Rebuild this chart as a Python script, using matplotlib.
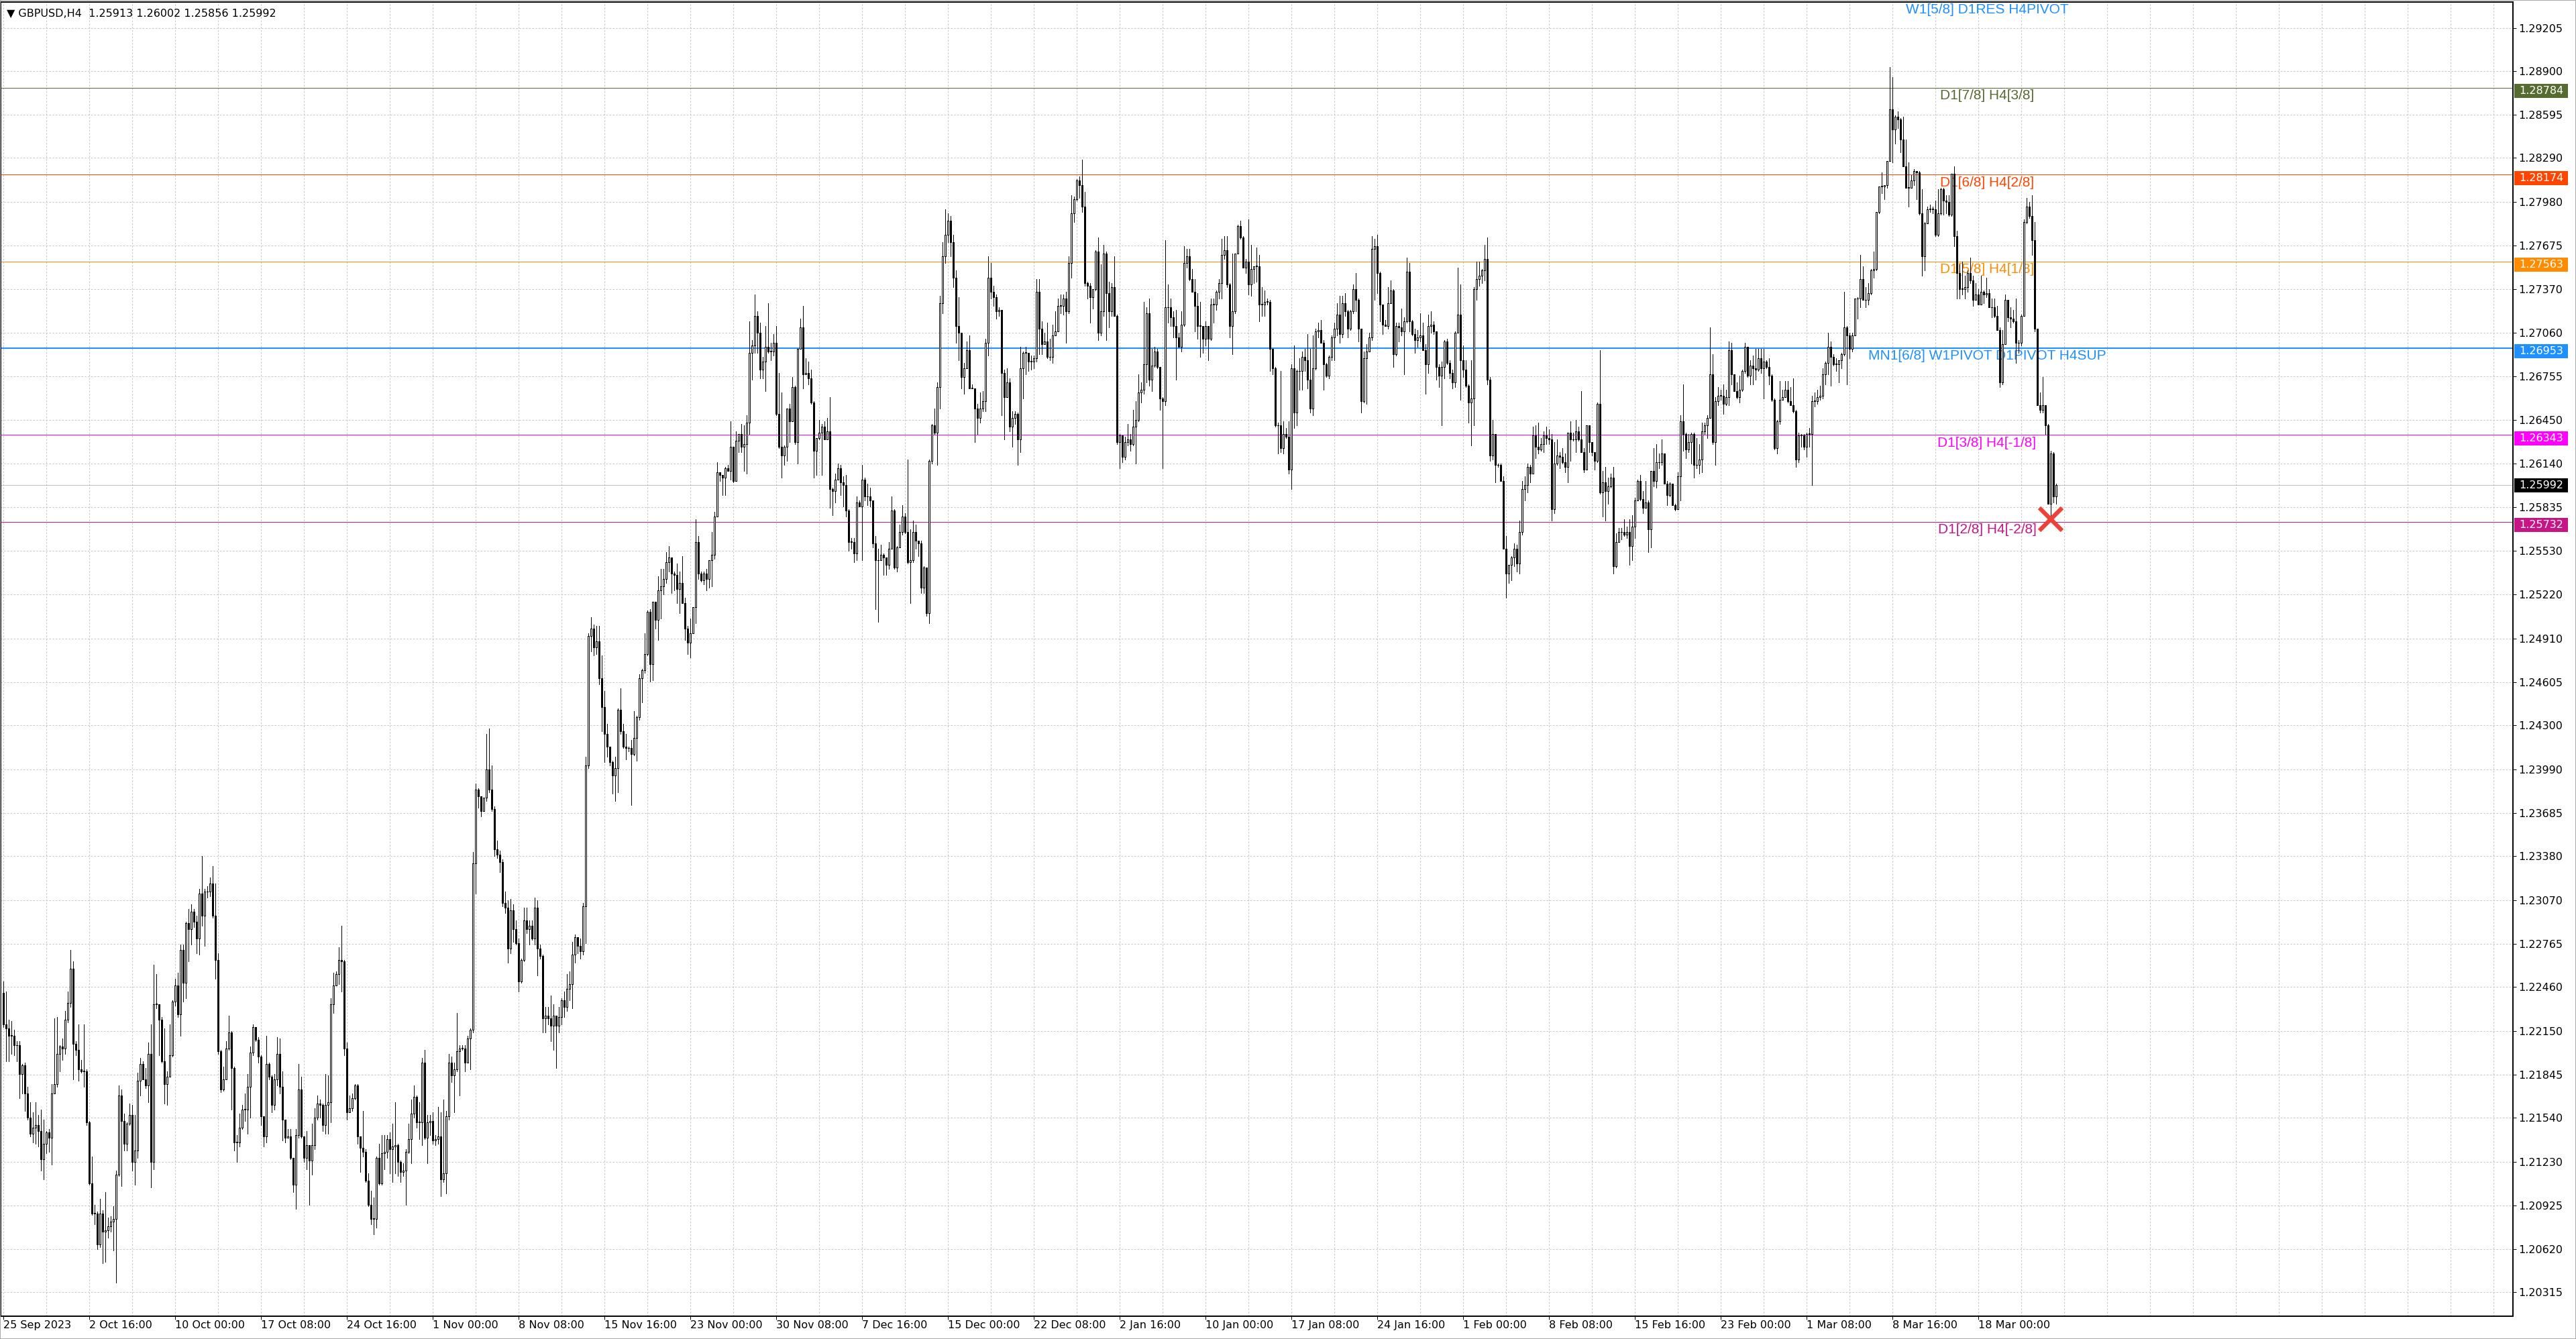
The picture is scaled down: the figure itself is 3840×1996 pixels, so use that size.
import numpy as np
import matplotlib
matplotlib.use("Agg")
import matplotlib.pyplot as plt
from matplotlib.patches import Rectangle

# ---------------- data (prices in 1/10000, i.e. 12220 -> 1.2220) ----------------
first_open = 12242
closes = [
12220,12217,12212,12212,12205,12205,12185,12191,12171,12154,
12143,12147,12149,12145,12125,12136,12144,12140,12171,12178,
12199,12204,12203,12223,12235,12259,12206,12202,12188,12187,
12187,12151,12108,12087,12087,12065,12087,12074,12075,12078,
12081,12083,12114,12170,12152,12136,12150,12156,12123,12131,
12180,12192,12181,12177,12199,12123,12234,12234,12223,12194,
12178,12183,12198,12236,12247,12227,12272,12249,12291,12287,
12299,12292,12280,12312,12296,12313,12313,12319,12296,12265,
12201,12174,12181,12203,12214,12189,12137,12137,12147,12160,
12160,12176,12200,12218,12209,12197,12155,12141,12192,12183,
12163,12181,12199,12176,12153,12140,12141,12126,12107,12142,
12174,12141,12126,12135,12124,12135,12154,12164,12163,12149,
12163,12165,12234,12247,12255,12265,12264,12203,12158,12161,
12168,12177,12141,12133,12130,12110,12093,12083,12083,12126,
12108,12129,12130,12139,12132,12134,12135,12123,12116,12117,
12130,12139,12157,12169,12151,12151,12193,12140,12151,12152,
12138,12139,12141,12111,12115,12155,12193,12184,12188,12201,
12203,12203,12193,12210,12216,12333,12385,12380,12370,12379,
12399,12385,12371,12343,12339,12334,12305,12302,12273,12300,
12287,12277,12250,12265,12293,12287,12289,12280,12302,12273,
12268,12224,12226,12224,12219,12226,12219,12225,12237,12232,
12245,12248,12269,12281,12275,12271,12303,12402,12493,12498,
12485,12489,12463,12443,12424,12415,12404,12395,12400,12441,
12426,12415,12414,12414,12410,12421,12436,12463,12469,12480,
12510,12473,12517,12504,12525,12528,12533,12545,12548,12537,
12536,12526,12530,12516,12498,12488,12495,12513,12559,12537,
12532,12537,12533,12546,12550,12577,12608,12606,12604,12611,
12609,12626,12602,12630,12635,12626,12628,12643,12692,12697,
12718,12706,12680,12686,12696,12693,12693,12699,12649,12626,
12620,12626,12653,12644,12668,12629,12695,12710,12677,12678,
12674,12657,12623,12632,12636,12640,12631,12637,12596,12595,
12603,12611,12601,12599,12581,12559,12559,12551,12587,12584,
12603,12591,12591,12588,12558,12546,12546,12550,12548,12543,
12554,12581,12541,12555,12566,12577,12566,12545,12546,12566,
12560,12558,12527,12541,12509,12616,12641,12636,12668,12727,
12760,12775,12785,12770,12745,12711,12706,12675,12681,12694,
12667,12667,12653,12646,12653,12658,12699,12745,12735,12731,
12721,12722,12678,12661,12671,12640,12646,12649,12631,12681,
12692,12692,12686,12686,12688,12735,12709,12698,12700,12689,
12689,12704,12707,12725,12725,12730,12721,12755,12790,12800,
12813,12810,12795,12741,12739,12731,12737,12763,12706,12721,
12762,12734,12721,12738,12718,12629,12634,12619,12629,12631,
12628,12640,12645,12664,12666,12684,12720,12673,12683,12693,
12682,12660,12658,12724,12724,12717,12711,12703,12696,12712,
12755,12760,12744,12735,12725,12711,12711,12702,12711,12702,
12726,12726,12735,12741,12761,12764,12740,12711,12721,12762,
12781,12773,12752,12756,12740,12751,12753,12753,12726,12726,
12728,12728,12695,12681,12641,12641,12625,12635,12633,12610,
12681,12650,12679,12679,12689,12687,12673,12653,12681,12707,
12708,12699,12684,12676,12689,12703,12709,12719,12705,12727,
12721,12709,12721,12737,12729,12709,12658,12688,12693,12703,
12765,12767,12748,12726,12712,12711,12727,12736,12691,12711,
12710,12707,12714,12749,12714,12705,12701,12703,12704,12694,
12684,12711,12712,12707,12682,12676,12682,12700,12685,12678,
12671,12706,12719,12687,12680,12669,12657,12660,12737,12744,
12746,12750,12758,12673,12620,12635,12613,12613,12602,12554,
12537,12543,12548,12554,12544,12566,12596,12599,12612,12607,
12634,12626,12624,12628,12634,12632,12631,12582,12614,12620,
12619,12615,12612,12636,12631,12631,12637,12631,12622,12610,
12641,12629,12622,12616,12656,12594,12601,12595,12598,12604,
12542,12559,12566,12566,12564,12566,12556,12570,12588,12602,
12589,12583,12587,12568,12609,12602,12615,12615,12621,12600,
12592,12600,12585,12582,12605,12644,12635,12624,12629,12635,
12613,12613,12617,12637,12641,12646,12677,12629,12658,12662,
12662,12656,12661,12694,12677,12665,12661,12666,12679,12696,
12676,12683,12681,12680,12688,12681,12686,12682,12676,12659,
12625,12644,12659,12661,12666,12658,12655,12651,12617,12634,
12634,12626,12635,12635,12658,12658,12661,12662,12677,12685,
12696,12689,12684,12684,12687,12691,12710,12704,12695,12704,
12730,12730,12744,12729,12729,12734,12750,12751,12791,12809,
12809,12810,12827,12863,12849,12858,12856,12842,12823,12808,
12808,12813,12820,12819,12790,12760,12783,12793,12793,12793,
12775,12790,12807,12799,12798,12789,12818,12774,12748,12737,
12737,12738,12748,12743,12729,12733,12726,12735,12733,12734,
12724,12724,12718,12708,12671,12698,12729,12717,12716,12714,
12699,12699,12718,12784,12795,12788,12771,12709,12655,12652,
12655,12641,12586,12621,12591,12599]

highs = [
12250,12243,12223,12222,12216,12208,12208,12192,12193,12176,
12165,12158,12165,12156,12160,12153,12145,12146,12178,12224,
12225,12205,12210,12229,12243,12272,12264,12208,12220,12195,
12220,12188,12152,12127,12093,12088,12097,12089,12102,12084,
12085,12092,12117,12177,12174,12157,12151,12164,12163,12156,
12186,12196,12194,12189,12207,12220,12262,12255,12225,12225,
12217,12187,12220,12237,12252,12256,12276,12276,12292,12301,
12304,12301,12296,12315,12338,12315,12317,12323,12331,12319,
12270,12202,12190,12208,12226,12215,12190,12142,12157,12163,
12171,12185,12204,12220,12216,12211,12198,12155,12212,12193,
12184,12185,12211,12210,12187,12153,12146,12146,12126,12146,
12192,12183,12140,12145,12135,12150,12161,12170,12167,12164,
12185,12184,12238,12256,12257,12274,12289,12265,12207,12170,
12171,12178,12178,12141,12159,12132,12115,12103,12098,12127,
12136,12142,12142,12142,12144,12150,12165,12136,12124,12122,
12132,12150,12167,12177,12170,12165,12196,12202,12156,12156,
12158,12142,12162,12158,12167,12159,12199,12197,12193,12228,
12205,12205,12205,12212,12217,12341,12389,12386,12379,12379,
12424,12428,12402,12373,12349,12342,12336,12313,12307,12308,
12304,12293,12280,12266,12302,12302,12293,12293,12309,12307,
12276,12269,12232,12232,12240,12234,12226,12232,12238,12243,
12255,12257,12278,12283,12280,12280,12305,12408,12495,12506,
12501,12500,12500,12479,12454,12431,12414,12405,12408,12442,
12456,12431,12424,12415,12420,12440,12437,12466,12470,12495,
12511,12512,12517,12516,12535,12540,12540,12552,12556,12548,
12538,12544,12538,12549,12520,12500,12505,12513,12575,12563,
12538,12538,12540,12546,12566,12580,12615,12608,12604,12612,
12613,12644,12626,12637,12635,12642,12641,12648,12714,12701,
12733,12721,12713,12689,12711,12727,12699,12705,12711,12678,
12664,12627,12653,12656,12675,12669,12695,12716,12725,12688,
12686,12680,12658,12632,12645,12642,12644,12646,12661,12597,
12607,12614,12613,12605,12606,12582,12562,12562,12591,12588,
12613,12604,12600,12597,12588,12563,12554,12557,12551,12547,
12559,12591,12582,12556,12571,12585,12579,12617,12568,12574,
12571,12560,12560,12542,12541,12617,12642,12653,12671,12732,
12770,12793,12790,12788,12775,12750,12731,12706,12685,12700,
12704,12670,12667,12656,12664,12665,12702,12760,12755,12739,
12733,12724,12722,12680,12681,12674,12651,12651,12650,12696,
12693,12696,12688,12690,12690,12744,12744,12714,12706,12713,
12702,12712,12721,12730,12733,12733,12735,12760,12803,12802,
12814,12816,12828,12805,12742,12741,12737,12764,12773,12754,
12768,12763,12742,12741,12760,12719,12635,12634,12633,12642,
12635,12652,12658,12677,12671,12728,12724,12730,12695,12696,
12695,12675,12661,12771,12740,12730,12721,12722,12706,12721,
12767,12765,12765,12751,12744,12734,12728,12711,12714,12711,
12730,12730,12736,12744,12772,12774,12774,12741,12762,12762,
12782,12785,12774,12758,12786,12768,12752,12766,12761,12738,
12736,12730,12729,12695,12682,12643,12679,12644,12639,12644,
12684,12697,12680,12688,12693,12695,12705,12695,12704,12709,
12713,12715,12701,12685,12690,12704,12713,12727,12732,12732,
12734,12722,12722,12740,12748,12730,12709,12693,12698,12706,
12774,12772,12775,12749,12725,12715,12738,12743,12737,12713,
12713,12723,12717,12759,12755,12715,12709,12708,12720,12713,
12698,12719,12721,12714,12707,12684,12686,12701,12702,12687,
12680,12707,12752,12740,12697,12687,12670,12687,12738,12756,
12756,12751,12768,12773,12675,12645,12632,12614,12614,12605,
12563,12543,12549,12558,12557,12574,12602,12605,12614,12613,
12640,12641,12643,12632,12637,12640,12638,12635,12629,12631,
12622,12625,12621,12636,12644,12636,12645,12640,12665,12625,
12641,12641,12629,12622,12657,12694,12609,12612,12604,12607,
12612,12565,12569,12569,12575,12570,12575,12578,12590,12603,
12606,12595,12602,12588,12609,12625,12628,12621,12631,12621,
12602,12601,12598,12586,12608,12648,12670,12636,12635,12636,
12636,12632,12628,12643,12643,12648,12710,12691,12661,12668,
12666,12670,12666,12700,12699,12677,12671,12676,12680,12699,
12696,12687,12690,12695,12695,12695,12695,12687,12688,12677,
12660,12645,12672,12666,12672,12672,12668,12674,12652,12636,
12635,12635,12636,12639,12662,12664,12666,12669,12681,12686,
12706,12700,12691,12688,12687,12692,12735,12711,12706,12706,
12730,12731,12761,12753,12738,12741,12751,12763,12791,12809,
12819,12810,12827,12893,12886,12859,12862,12857,12858,12842,
12826,12817,12821,12820,12820,12807,12784,12795,12796,12795,
12799,12807,12808,12808,12803,12803,12818,12823,12778,12754,
12756,12746,12750,12759,12746,12741,12737,12746,12736,12745,
12737,12730,12730,12725,12710,12708,12733,12729,12724,12722,
12730,12701,12719,12786,12801,12798,12803,12784,12709,12664,
12675,12651,12642,12623,12622,12600]

lows = [
12218,12194,12194,12199,12198,12194,12168,12171,12159,12153,
12141,12137,12136,12134,12117,12111,12129,12130,12121,12171,
12176,12187,12195,12199,12221,12232,12181,12198,12180,12186,
12176,12149,12107,12086,12079,12062,12063,12052,12053,12070,
12074,12061,12038,12113,12106,12131,12131,12149,12117,12107,
12126,12170,12181,12175,12165,12105,12118,12231,12198,12193,
12164,12163,12183,12197,12233,12225,12212,12236,12238,12264,
12276,12288,12270,12269,12289,12275,12309,12310,12295,12252,
12199,12172,12173,12186,12202,12160,12131,12123,12134,12146,
12152,12143,12154,12198,12208,12193,12149,12134,12137,12181,
12158,12160,12177,12171,12138,12137,12140,12125,12102,12090,
12140,12140,12123,12118,12093,12114,12132,12153,12154,12145,
12143,12143,12151,12228,12248,12248,12243,12198,12153,12158,
12159,12167,12136,12116,12127,12109,12092,12079,12072,12077,
12107,12107,12118,12126,12115,12109,12115,12113,12109,12113,
12093,12129,12122,12154,12147,12139,12135,12139,12122,12142,
12136,12135,12136,12099,12109,12101,12153,12179,12158,12187,
12170,12202,12187,12193,12188,12214,12312,12372,12366,12370,
12377,12383,12370,12338,12337,12327,12303,12298,12263,12270,
12278,12276,12243,12249,12264,12284,12276,12279,12276,12254,
12266,12214,12214,12220,12208,12202,12189,12214,12220,12225,
12229,12237,12231,12263,12270,12266,12269,12277,12400,12482,
12479,12480,12459,12426,12404,12408,12402,12382,12377,12383,
12424,12414,12406,12412,12374,12409,12405,12434,12446,12467,
12479,12461,12462,12498,12490,12505,12522,12530,12538,12523,
12525,12516,12509,12516,12490,12480,12478,12498,12502,12533,
12531,12529,12525,12527,12528,12547,12578,12602,12592,12592,
12609,12603,12601,12602,12622,12622,12609,12607,12635,12673,
12692,12692,12674,12674,12665,12692,12687,12690,12648,12625,
12604,12613,12616,12629,12644,12628,12614,12695,12667,12677,
12670,12656,12604,12606,12631,12606,12631,12631,12583,12578,
12587,12603,12592,12584,12577,12553,12554,12545,12546,12584,
12546,12588,12585,12584,12555,12512,12503,12546,12536,12536,
12540,12554,12540,12538,12555,12564,12565,12544,12516,12545,
12554,12549,12523,12523,12507,12502,12614,12635,12613,12653,
12720,12755,12770,12760,12738,12699,12687,12667,12663,12681,
12667,12667,12629,12635,12643,12651,12651,12690,12730,12725,
12716,12718,12648,12631,12661,12637,12626,12642,12613,12622,
12660,12677,12679,12680,12681,12686,12691,12691,12699,12688,
12687,12685,12707,12716,12720,12719,12699,12720,12745,12784,
12799,12801,12791,12739,12730,12713,12723,12736,12701,12704,
12718,12701,12710,12718,12718,12628,12611,12615,12617,12627,
12623,12627,12614,12644,12657,12663,12671,12669,12665,12682,
12681,12652,12611,12655,12713,12711,12703,12673,12696,12693,
12711,12752,12743,12735,12707,12702,12689,12692,12697,12687,
12701,12713,12722,12730,12730,12758,12738,12703,12691,12720,
12762,12772,12752,12748,12733,12732,12741,12742,12714,12718,
12718,12726,12679,12677,12640,12621,12622,12621,12632,12607,
12596,12639,12641,12666,12666,12679,12667,12650,12648,12680,
12703,12699,12666,12675,12674,12687,12687,12704,12699,12703,
12718,12703,12708,12720,12721,12700,12650,12657,12656,12693,
12701,12729,12734,12714,12705,12711,12709,12727,12682,12690,
12700,12704,12677,12713,12707,12704,12692,12696,12700,12694,
12663,12678,12706,12705,12673,12668,12641,12674,12684,12674,
12667,12668,12706,12659,12675,12668,12643,12627,12641,12729,
12739,12741,12743,12670,12616,12617,12601,12612,12602,12554,
12520,12530,12532,12542,12538,12537,12564,12588,12594,12601,
12607,12618,12621,12623,12622,12628,12628,12574,12579,12613,
12611,12614,12608,12601,12616,12630,12622,12630,12622,12608,
12610,12622,12620,12610,12615,12593,12577,12574,12586,12597,
12537,12541,12559,12561,12563,12562,12543,12546,12562,12588,
12588,12579,12583,12552,12555,12598,12597,12611,12613,12600,
12585,12591,12585,12581,12582,12588,12623,12618,12622,12614,
12604,12611,12607,12608,12635,12632,12646,12628,12613,12655,
12659,12649,12655,12655,12670,12665,12660,12657,12665,12678,
12675,12670,12670,12673,12679,12678,12660,12681,12670,12658,
12624,12621,12642,12659,12661,12657,12655,12650,12612,12615,
12626,12624,12619,12626,12599,12654,12656,12659,12660,12670,
12677,12669,12683,12679,12671,12681,12690,12670,12688,12693,
12704,12716,12724,12729,12724,12726,12733,12745,12750,12790,
12804,12800,12808,12827,12826,12839,12850,12833,12824,12808,
12795,12808,12810,12800,12789,12746,12750,12783,12791,12790,
12774,12774,12789,12789,12790,12788,12788,12767,12730,12730,
12733,12730,12735,12741,12725,12733,12726,12726,12727,12731,
12724,12717,12717,12708,12668,12670,12698,12714,12710,12713,
12685,12692,12697,12718,12783,12787,12761,12707,12655,12650,
12650,12635,12586,12575,12587,12586]

price_ticks = [1.29205, 1.28900, 1.28595, 1.28290, 1.27980, 1.27675, 1.27370,
               1.27060, 1.26755, 1.26450, 1.26140, 1.25835, 1.25530, 1.25220,
               1.24910, 1.24605, 1.24300, 1.23990, 1.23685, 1.23380, 1.23070,
               1.22765, 1.22460, 1.22150, 1.21845, 1.21540, 1.21230, 1.20925,
               1.20620, 1.20315]

date_labels = ["25 Sep 2023", "2 Oct 16:00", "10 Oct 00:00", "17 Oct 08:00",
               "24 Oct 16:00", "1 Nov 00:00", "8 Nov 08:00", "15 Nov 16:00",
               "23 Nov 00:00", "30 Nov 08:00", "7 Dec 16:00", "15 Dec 00:00",
               "22 Dec 08:00", "2 Jan 16:00", "10 Jan 00:00", "17 Jan 08:00",
               "24 Jan 16:00", "1 Feb 00:00", "8 Feb 08:00", "15 Feb 16:00",
               "23 Feb 00:00", "1 Mar 08:00", "8 Mar 16:00", "18 Mar 00:00"]
bars_per_label = 32
bars_per_grid = 16

level_prices = [1.28784, 1.28174, 1.27563, 1.26953, 1.26343, 1.25732]
level_texts = ["D1[7/8] H4[3/8]", "D1[6/8] H4[2/8]", "D1[5/8] H4[1/8]",
               "MN1[6/8] W1PIVOT D1PIVOT H4SUP", "D1[3/8] H4[-1/8]",
               "D1[2/8] H4[-2/8]"]
level_colors = ["#556b2f", "#ff4500", "#ff8c00", "#1e90ff", "#ff00ff", "#c71585"]
top_level_price = 1.29390
top_level_text = "W1[5/8] D1RES H4PIVOT"
top_level_color = "#1e90ff"
bid_price = 1.25992
title_text = "GBPUSD,H4  1.25913 1.26002 1.25856 1.25992"
target_bar, target_price = 762.9, 1.2575

# ---------------- layout ----------------
W, Hpx = 3840, 1996
ax_l, ax_r, ax_t, ax_b = 1, 3746, 3, 1962      # plot frame in pixels
px_per_unit = 21200.0
y_top = 1.29205 + (41.5 - ax_t) / px_per_unit
y_bot = 1.29205 - (ax_b - 41.5) / px_per_unit
bar_px = 4.0
x_left = -1.075
x_right = x_left + (ax_r - ax_l) / bar_px

n = min(len(closes), len(highs), len(lows))
c = np.array(closes[:n]) / 10000.0
h = np.array(highs[:n]) / 10000.0
l = np.array(lows[:n]) / 10000.0
o = np.concatenate([[first_open / 10000.0], c[:-1]])
h = np.maximum(h, np.maximum(o, c))
l = np.minimum(l, np.minimum(o, c))
x = np.arange(n)

fig = plt.figure(figsize=(W / 100, Hpx / 100), dpi=100)
fig.patch.set_facecolor("white")
ax = fig.add_axes([ax_l / W, 1 - ax_b / Hpx, (ax_r - ax_l) / W, (ax_b - ax_t) / Hpx])
ax.set_xlim(x_left, x_right)
ax.set_ylim(y_bot, y_top)
ppx = (y_top - y_bot) / (ax_b - ax_t)   # price per pixel
LW = 0.72                                 # 1 px in points

# grid
grid_kw = dict(color="#c4c4c4", lw=LW, ls=(0, (2.4, 2.4)), zorder=0)
for gx in range(0, int(x_right) + 1, bars_per_grid):
    ax.axvline(gx, **grid_kw)
for gy in price_ticks:
    ax.axhline(gy, **grid_kw)

# level lines and their labels
for p, col in zip(level_prices, level_colors):
    ax.axhline(p, color=col, lw=(1.5 if col == "#1e90ff" else LW), zorder=1)
ax.axhline(bid_price, color="#c0c0c0", lw=LW, zorder=1)
ax.axhline(top_level_price, color=top_level_color, lw=LW, zorder=1)

label_x = (2962 - 5.3) / bar_px
for p, t, col in zip(level_prices + [top_level_price],
                     level_texts + [top_level_text],
                     level_colors + [top_level_color]):
    ax.text(label_x, p - 17.5 * ppx, t, color=col, fontsize=15,
            family=["Liberation Sans", "DejaVu Sans"], ha="center",
            va="baseline", zorder=2, clip_on=True)

# candles
ax.vlines(x, l, h, color="black", lw=LW, zorder=3, antialiased=False)
body_lo = np.minimum(o, c)
body_h = np.maximum(np.abs(c - o), 0.5 * ppx)
up = c >= o
ax.bar(x[up], body_h[up], bottom=body_lo[up], width=0.5, facecolor="white",
       edgecolor="black", lw=LW, zorder=4, antialiased=False)
ax.bar(x[~up], body_h[~up], bottom=body_lo[~up], width=0.5, facecolor="black",
       edgecolor="black", lw=LW, zorder=4, antialiased=False)

# target cross
ax.plot([target_bar], [target_price], marker="x", ms=24, mew=4.5,
        color="#ee4238", zorder=6, clip_on=False)

# axes styling
for s in ax.spines.values():
    s.set_color("black")
    s.set_linewidth(1.4)
ax.yaxis.tick_right()
ax.set_yticks(price_ticks)
ax.set_yticklabels([f"{v:.5f}" for v in price_ticks])
ax.tick_params(axis="y", direction="out", length=3.6, width=LW, pad=2.2,
               labelsize=11.5, colors="black")
xt = [i * bars_per_label for i in range(len(date_labels))]
ax.set_xticks(xt)
ax.set_xticklabels(date_labels, ha="left")
ax.tick_params(axis="x", direction="out", length=3.6, width=LW, pad=1.0,
               labelsize=11.5, colors="black")
for lab in ax.get_xticklabels():
    lab.set_horizontalalignment("left")

# coloured price boxes on the right axis
box_x0 = (ax_r + 2 - 5.3) / bar_px
box_w = 80 / bar_px
txt_x = (ax_r + 9 - 5.3) / bar_px
box_shift = [5] * len(level_prices) + [1]   # pixels below the line
for p, col, sh in zip(level_prices + [bid_price], level_colors + ["black"], box_shift):
    yc = p - sh * ppx
    ax.add_patch(Rectangle((box_x0, yc - 10.5 * ppx), box_w, 21 * ppx,
                           facecolor=col, edgecolor="none", clip_on=False,
                           zorder=10))
    ax.text(txt_x, yc, f"{p:.5f}", color="white", fontsize=11.5, ha="left",
            va="center", clip_on=False, zorder=11)

# title
fig.text(10 / W, 1 - 20.5 / Hpx, "\u25bc " + title_text, fontsize=11.5,
         ha="left", va="center", color="black")

# outer window border
fig.add_artist(Rectangle((0, 0), 1, 1, transform=fig.transFigure, fill=False,
                         edgecolor="#a8a8a8", lw=1.4))

fig.savefig("out.png", dpi=100, facecolor="white")
